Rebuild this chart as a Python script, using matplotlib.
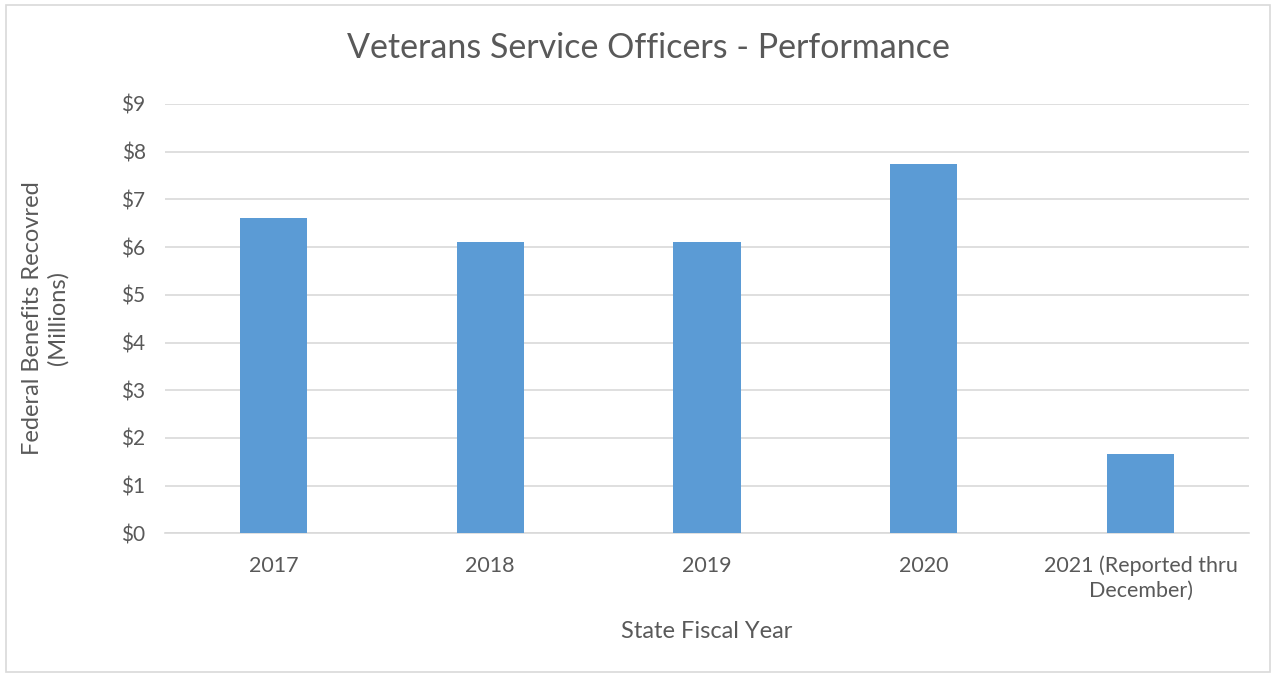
import matplotlib.pyplot as plt
from matplotlib.patches import Rectangle

# Dados do gráfico
anos = ['2017', '2018', '2019', '2020', '2021 (Reported thru\nDecember)']
valores = [6.60, 6.10, 6.10, 7.74, 1.66]
ticksY = [0, 1, 2, 3, 4, 5, 6, 7, 8, 9]

cinza = '#595959'
azul = '#5B9BD5'

plt.rcParams['font.family'] = ['Lato', 'DejaVu Sans']

fig = plt.figure(figsize=(12.76, 6.77), dpi=100)
ax = fig.add_axes([165/1276, 1-533.3/677, (1249-165)/1276, (533.3-104)/677])

# Barras
ax.bar(range(len(anos)), valores, width=0.31, color=azul, zorder=3)

ax.set_xlim(-0.5, len(anos)-0.5)
ax.set_ylim(0, 9)
ax.set_yticks(ticksY)
ax.set_yticklabels(['$' + str(t) for t in ticksY])
ax.set_xticks(range(len(anos)))
ax.set_xticklabels(anos, linespacing=1.3)

ax.grid(axis='y', color='#D9D9D9', linewidth=1.2, zorder=0)
for lado in ['top', 'right', 'left']:
  ax.spines[lado].set_visible(False)
ax.spines['bottom'].set_color('#D9D9D9')
ax.spines['bottom'].set_linewidth(1.2)
ax.tick_params(axis='x', length=0, labelsize=15.5, colors=cinza, pad=16)
ax.tick_params(axis='y', length=0, labelsize=15, colors=cinza, pad=14)

ax.set_xlabel('State Fiscal Year', fontsize=17, color=cinza)
ax.set_ylabel('Federal Benefits Recovred\n(Millions)', fontsize=17, color=cinza, linespacing=1.25)

# Posição dos rótulos dos eixos em coordenadas da figura
ax.xaxis.set_label_coords(707/1276, 1-632/677, transform=fig.transFigure)
ax.xaxis.label.set_va('center')
ax.yaxis.set_label_coords(45/1276, 1-318/677, transform=fig.transFigure)
ax.yaxis.label.set_va('center')

fig.text(0.508, 1-48/677, 'Veterans Service Officers - Performance', ha='center', va='center',
         fontsize=24.5, color=cinza)

# Moldura do gráfico
fig.patches.append(Rectangle((6/1276, 5/677), 1264/1276, 667/677, transform=fig.transFigure,
                             fill=False, edgecolor='#D9D9D9', linewidth=1.2))

plt.savefig('out.png', dpi=100)
